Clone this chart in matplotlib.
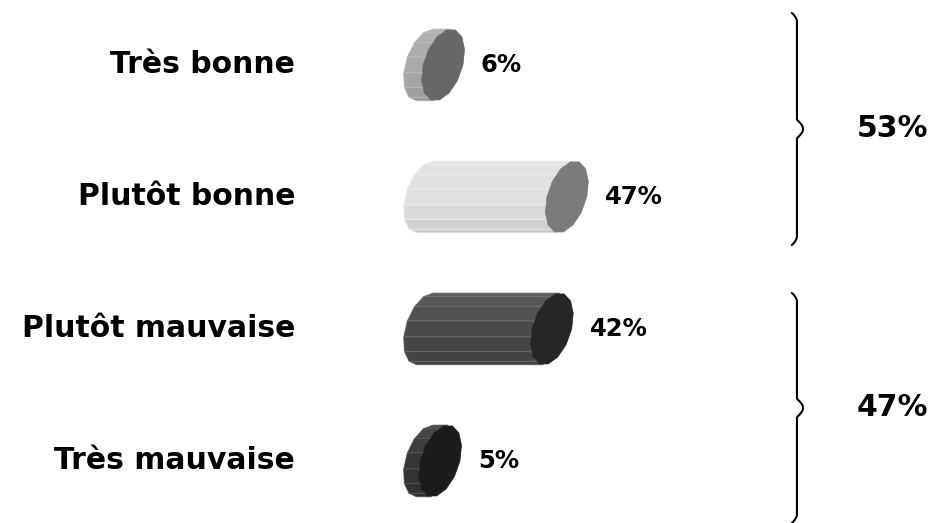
import numpy as np
import matplotlib
matplotlib.use("Agg")
import matplotlib.pyplot as plt
from matplotlib.patches import Polygon

categories = ["Très bonne", "Plutôt bonne", "Plutôt mauvaise", "Très mauvaise"]
values = [6, 47, 42, 5]
groups = [(0, 1), (2, 3)]
group_totals = [53, 47]

# body and end-cap shades for each cylinder
body_colors = ["#a9a9a9", "#e0e0e0", "#484848", "#343434"]
cap_colors = ["#676767", "#7b7b7b", "#262626", "#1b1b1b"]
edge_colors = ["#bcbcbc", "#eeeeee", "#6e6e6e", "#555555"]

plt.rcParams["font.family"] = "DejaVu Sans"

fig = plt.figure(figsize=(9.38, 5.23), dpi=100)
ax = fig.add_axes([0, 0, 1, 1])
ax.set_xlim(-140.7, 169.9)
ax.set_ylim(3.47, -0.492)
ax.axis("off")

a = 6.6      # cap half-width (x units)
b = 0.272    # cap half-height (y units)
lean = 2.7   # cap top leans right
n_seg = 14


def cap_pts(cx, cy, t):
    return cx + a * np.cos(t) + lean * np.sin(t), cy - b * np.sin(t)


def shade(hex_color, f):
    c = np.array(matplotlib.colors.to_rgb(hex_color))
    if f >= 0:
        c = c + (1 - c) * f
    else:
        c = c * (1 + f)
    return np.clip(c, 0, 1)


for i, (cat, val) in enumerate(zip(categories, values)):
    x0, x1 = 0, val
    # side facets on the left half of the section
    ts = np.linspace(np.pi / 2, 3 * np.pi / 2, n_seg // 2 + 1)
    for k in range(len(ts) - 1):
        lx1, ly1 = cap_pts(x0, i, ts[k])
        lx2, ly2 = cap_pts(x0, i, ts[k + 1])
        rx1, ry1 = cap_pts(x1, i, ts[k])
        rx2, ry2 = cap_pts(x1, i, ts[k + 1])
        f = 0.12 - 0.22 * k / (len(ts) - 2)
        ax.add_patch(Polygon([(lx1, ly1), (lx2, ly2), (rx2, ry2), (rx1, ry1)],
                             closed=True, facecolor=shade(body_colors[i], f),
                             edgecolor=edge_colors[i], linewidth=0.5))
    # end cap
    tc = np.linspace(0, 2 * np.pi, n_seg + 1)
    cx, cy = cap_pts(x1, i, tc)
    ax.add_patch(Polygon(np.column_stack([cx, cy]), closed=True,
                         facecolor=cap_colors[i], edgecolor=cap_colors[i],
                         linewidth=0.5))
    ax.text(-43, i, cat, ha="right", va="center", fontsize=21.5,
            fontweight="bold", color="black")
    ax.text(val + 12.5, i, f"{val}%", ha="left", va="center", fontsize=17.5,
            fontweight="bold", color="black")


def brace(x, y_top, y_bot, y_tip):
    hook = 1.7
    tip = 2.0
    r = 0.07
    pts = []
    t = np.linspace(0, 1, 12)
    # top hook
    pts += list(zip(x - hook * (1 - t) ** 2, y_top + r * t))
    pts += [(x, y_tip - r)]
    pts += list(zip(x + tip * np.sin(t * np.pi / 2), y_tip - r + r * t))
    pts += list(zip(x + tip * np.cos(t * np.pi / 2), y_tip + r * t))
    pts += [(x, y_bot - r)]
    pts += list(zip(x - hook * t ** 2, y_bot - r + r * t))
    xs, ys = zip(*pts)
    ax.plot(xs, ys, color="black", linewidth=1.5, solid_capstyle="round")


brace_spans = [(-0.394, 1.364), (1.727, 3.47)]
for (g0, g1), total, (yt, yb) in zip(groups, group_totals, brace_spans):
    ytip = (yt + yb) / 2
    brace(123.2, yt, yb, ytip)
    ax.text(143, ytip, f"{total}%", ha="left", va="center", fontsize=21.5,
            fontweight="bold", color="black")

fig.savefig("out.png", dpi=100)
